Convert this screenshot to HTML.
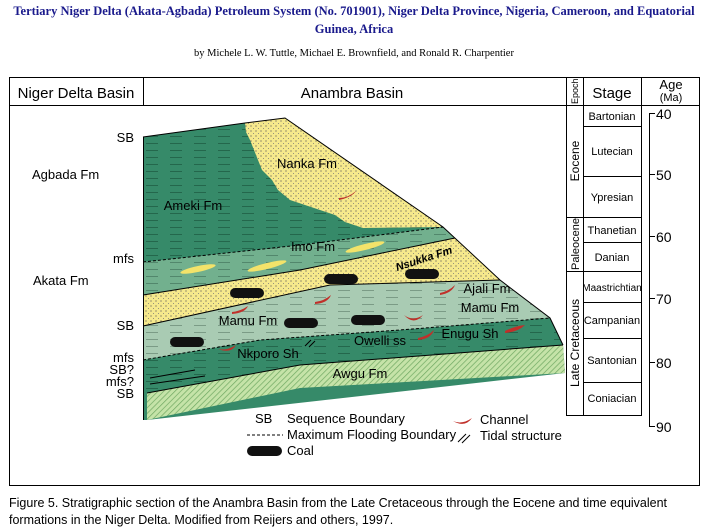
<!DOCTYPE html>
<html><head><meta charset="utf-8"><style>
body{margin:0;background:#fff;width:708px;height:531px;overflow:hidden}
svg{display:block}
.t{font-family:"Liberation Sans",sans-serif;fill:#000}
.s{font-family:"Liberation Serif",serif}
</style></head><body>
<svg width="708" height="531" viewBox="0 0 708 531" xmlns="http://www.w3.org/2000/svg">
<defs>
<pattern id="dots" width="5" height="5" patternUnits="userSpaceOnUse">
<rect width="5" height="5" fill="#f6e98c"/><circle cx="1" cy="1" r="0.6" fill="#555"/><circle cx="3.5" cy="3.5" r="0.5" fill="#777"/></pattern>
<pattern id="dash1" width="24" height="7" patternUnits="userSpaceOnUse">
<rect width="24" height="7" fill="#368a69"/><line x1="2" y1="3.5" x2="14" y2="3.5" stroke="#1f5e45" stroke-width="0.8"/></pattern>
<pattern id="dash2" width="24" height="7" patternUnits="userSpaceOnUse">
<rect width="24" height="7" fill="#72b08e"/><line x1="2" y1="3.5" x2="14" y2="3.5" stroke="#4a7d63" stroke-width="0.8"/></pattern>
<pattern id="dash3" width="24" height="7" patternUnits="userSpaceOnUse">
<rect width="24" height="7" fill="#a9cbb3"/><line x1="2" y1="3.5" x2="14" y2="3.5" stroke="#6f8f7b" stroke-width="0.8"/></pattern>
<pattern id="hatch" width="4" height="4" patternUnits="userSpaceOnUse" patternTransform="rotate(45)">
<rect width="4" height="4" fill="#c5e3a8"/><line x1="0" y1="0" x2="0" y2="4" stroke="#6fa862" stroke-width="1.4"/></pattern>
</defs>
<text x="354" y="15" text-anchor="middle" class="s" font-weight="bold" font-size="12.5" fill="#1a1a8c">Tertiary Niger Delta (Akata-Agbada) Petroleum System (No. 701901), Niger Delta Province, Nigeria, Cameroon, and Equatorial</text>
<text x="354" y="33" text-anchor="middle" class="s" font-weight="bold" font-size="12.5" fill="#1a1a8c">Guinea, Africa</text>
<text x="354" y="56" text-anchor="middle" class="s" font-size="10.5" fill="#000">by Michele L. W. Tuttle, Michael E. Brownfield, and Ronald R. Charpentier</text>

<rect x="9.5" y="77.5" width="690" height="408" fill="none" stroke="#000"/>
<line x1="9" y1="105.5" x2="700" y2="105.5" stroke="#000"/>
<line x1="143.5" y1="78" x2="143.5" y2="105" stroke="#000"/>
<line x1="566.5" y1="78" x2="566.5" y2="415" stroke="#000"/>
<line x1="583.5" y1="78" x2="583.5" y2="415" stroke="#000"/>
<line x1="641.5" y1="78" x2="641.5" y2="415" stroke="#000"/>
<line x1="566" y1="415.5" x2="642" y2="415.5" stroke="#000"/>
<text x="76" y="98" text-anchor="middle" class="t" font-size="15">Niger Delta Basin</text>
<text x="352" y="98" text-anchor="middle" class="t" font-size="15">Anambra Basin</text>
<text transform="translate(578,104) rotate(-90)" class="t" font-size="9">Epoch</text>
<text x="612" y="98" text-anchor="middle" class="t" font-size="15">Stage</text>
<text x="671" y="89" text-anchor="middle" class="t" font-size="13">Age</text>
<text x="671" y="101" text-anchor="middle" class="t" font-size="11">(Ma)</text>

<g stroke="#000">
<line x1="583" y1="126.5" x2="642" y2="126.5"/><line x1="583" y1="176.5" x2="642" y2="176.5"/>
<line x1="566" y1="217.5" x2="642" y2="217.5"/><line x1="583" y1="242.5" x2="642" y2="242.5"/>
<line x1="566" y1="271.5" x2="642" y2="271.5"/><line x1="583" y1="302.5" x2="642" y2="302.5"/>
<line x1="583" y1="338.5" x2="642" y2="338.5"/><line x1="583" y1="382.5" x2="642" y2="382.5"/>
</g>
<g class="t" font-size="11" text-anchor="middle">
<text x="612" y="120">Bartonian</text><text x="612" y="155">Lutecian</text><text x="612" y="201">Ypresian</text>
<text x="612" y="234">Thanetian</text><text x="612" y="261">Danian</text><text x="612" y="291" font-size="10">Maastrichtian</text>
<text x="612" y="324">Campanian</text><text x="612" y="364">Santonian</text><text x="612" y="402">Coniacian</text>
</g>
<g class="t" font-size="12" text-anchor="middle">
<text transform="translate(579,161) rotate(-90)">Eocene</text>
<text transform="translate(579,244) rotate(-90)" font-size="11">Paleocene</text>
<text transform="translate(579,343) rotate(-90)">Late Cretaceous</text>
</g>
<g stroke="#000">
<line x1="649.5" y1="113" x2="649.5" y2="427"/>
<line x1="649" y1="113.5" x2="655" y2="113.5"/><line x1="649" y1="174.5" x2="655" y2="174.5"/>
<line x1="649" y1="236.5" x2="655" y2="236.5"/><line x1="649" y1="298.5" x2="655" y2="298.5"/>
<line x1="649" y1="362.5" x2="655" y2="362.5"/><line x1="649" y1="426.5" x2="655" y2="426.5"/>
</g>
<g class="t" font-size="14">
<text x="656" y="119">40</text><text x="656" y="180">50</text><text x="656" y="242">60</text>
<text x="656" y="304">70</text><text x="656" y="368">80</text><text x="656" y="432">90</text>
</g>

<path d="M143,137 L245,123 L285,118 L443,227 L500,280 L550,318 L563,345 L565,373 L147,420 L143,420 Z" fill="#368a69"/>
<path d="M143,137 L245,123 L285,118 L443,227 L143,262 Z" fill="url(#dash1)"/>
<path d="M245,123 L285,118 L443,227 L363,228 L345,222 L335,215 L320,210 L305,205 L290,200 L278,190 L272,180 L262,170 L258,160 L254,150 L250,140 L246,132 Z" fill="url(#dots)"/>
<path d="M143,262 L300,245 L443,227 L455,238 L300,270 L143,295 Z" fill="url(#dash2)"/>
<path d="M143,295 L300,270 L455,238 L500,280 L330,285 L143,326 Z" fill="url(#dots)"/>
<path d="M143,326 L330,285 L500,280 L550,318 L400,330 L260,340 L143,360 Z" fill="url(#dash3)"/>
<path d="M143,360 L260,340 L400,330 L550,318 L563,345 L300,365 L147,393 L143,393 Z" fill="url(#dash1)"/>
<path d="M147,393 L300,365 L563,345 L565,373 L300,388 L147,420 Z" fill="url(#hatch)"/>
<path d="M143,137 L245,123 L285,118 L443,227 L500,280 L550,318 L563,345" fill="none" stroke="#000" stroke-width="1"/>
<line x1="143.5" y1="137" x2="143.5" y2="420" stroke="#000"/>
<path d="M143,295 L300,270 L455,238" fill="none" stroke="#000"/>
<path d="M143,326 L330,285 L500,280" fill="none" stroke="#000"/>
<path d="M147,393 L300,365 L563,345" fill="none" stroke="#000"/>
<path d="M143,262 L300,245 L443,227" fill="none" stroke="#000" stroke-dasharray="3,2"/>
<path d="M143,360 L260,340 L400,330 L550,318" fill="none" stroke="#000" stroke-dasharray="3,2"/>
<path d="M150,378 L195,370 M150,384 L205,376" stroke="#000" fill="none"/>
<g fill="#f3e36a">
<ellipse cx="198" cy="269" rx="18" ry="3" transform="rotate(-12 198 269)"/>
<ellipse cx="267" cy="266" rx="20" ry="3" transform="rotate(-14 267 266)"/>
<ellipse cx="365" cy="247" rx="20" ry="3" transform="rotate(-14 365 247)"/>
</g>
<g fill="#111">
<rect x="230" y="288" width="34" height="10" rx="5"/><rect x="324" y="274" width="34" height="10" rx="5"/>
<rect x="405" y="269" width="34" height="10" rx="5"/><rect x="284" y="318" width="34" height="10" rx="5"/>
<rect x="351" y="315" width="34" height="10" rx="5"/><rect x="170" y="337" width="34" height="10" rx="5"/>
</g>
<g fill="#c0302a">
<path d="M339,198 Q348,198 356,191 Q352,197 339,200 Z"/><path d="M232,312 Q241,311 248,306 Q245,313 232,314 Z"/>
<path d="M315,302 Q324,301 331,295 Q328,303 315,304 Z"/><path d="M440,293 Q449,291 455,285 Q452,293 440,295 Z"/>
<path d="M404,315 Q413,322 423,315 Q414,326 404,315 Z"/><path d="M418,338 Q428,336 434,330 Q431,339 418,340 Z"/>
<path d="M218,349 Q227,351 236,345 Q231,354 218,349 Z"/><path d="M505,331 Q515,326 525,325 Q518,332 505,333 Z"/>
</g>
<path d="M305,346 L311,340 M309,347 L315,341" stroke="#000" fill="none"/>
<g class="t" font-size="13" text-anchor="middle">
<text x="307" y="168">Nanka Fm</text><text x="193" y="210">Ameki Fm</text><text x="313" y="251">Imo Fm</text>
<text transform="translate(425,262) rotate(-18)" font-size="11" font-style="italic" font-weight="bold">Nsukka Fm</text>
<text x="487" y="293">Ajali Fm</text><text x="490" y="312">Mamu Fm</text><text x="248" y="325">Mamu Fm</text>
<text x="380" y="345">Owelli ss</text><text x="470" y="338">Enugu Sh</text><text x="268" y="358">Nkporo Sh</text>
<text x="360" y="378">Awgu Fm</text>
</g>
<g class="t" font-size="13" text-anchor="end">
<text x="134" y="142">SB</text><text x="134" y="263">mfs</text><text x="134" y="330">SB</text>
<text x="134" y="362">mfs</text><text x="134" y="374">SB?</text><text x="134" y="386">mfs?</text><text x="134" y="398">SB</text>
</g>
<text x="32" y="179" class="t" font-size="13">Agbada Fm</text>
<text x="33" y="285" class="t" font-size="13">Akata Fm</text>
<g class="t" font-size="13">
<text x="255" y="423">SB</text><text x="287" y="423">Sequence Boundary</text>
<text x="287" y="439">Maximum Flooding Boundary</text><text x="287" y="455">Coal</text>
<text x="480" y="424">Channel</text><text x="480" y="440">Tidal structure</text>
</g>
<line x1="247" y1="435" x2="283" y2="435" stroke="#000" stroke-dasharray="3,2"/>
<rect x="247" y="446" width="35" height="10" rx="5" fill="#111"/>
<path d="M453,421 Q462,425 472,418 Q465,428 453,421 Z" fill="#c0302a"/>
<path d="M458,442 L466,434 M462,443 L470,435" stroke="#000" fill="none"/>
<g class="t" font-size="12.5">
<text x="9" y="507">Figure 5.  Stratigraphic section of the Anambra Basin from the Late Cretaceous through the Eocene and time equivalent</text>
<text x="9" y="524">formations in the Niger Delta.  Modified from Reijers and others, 1997.</text>
</g>
</svg>
</body></html>
